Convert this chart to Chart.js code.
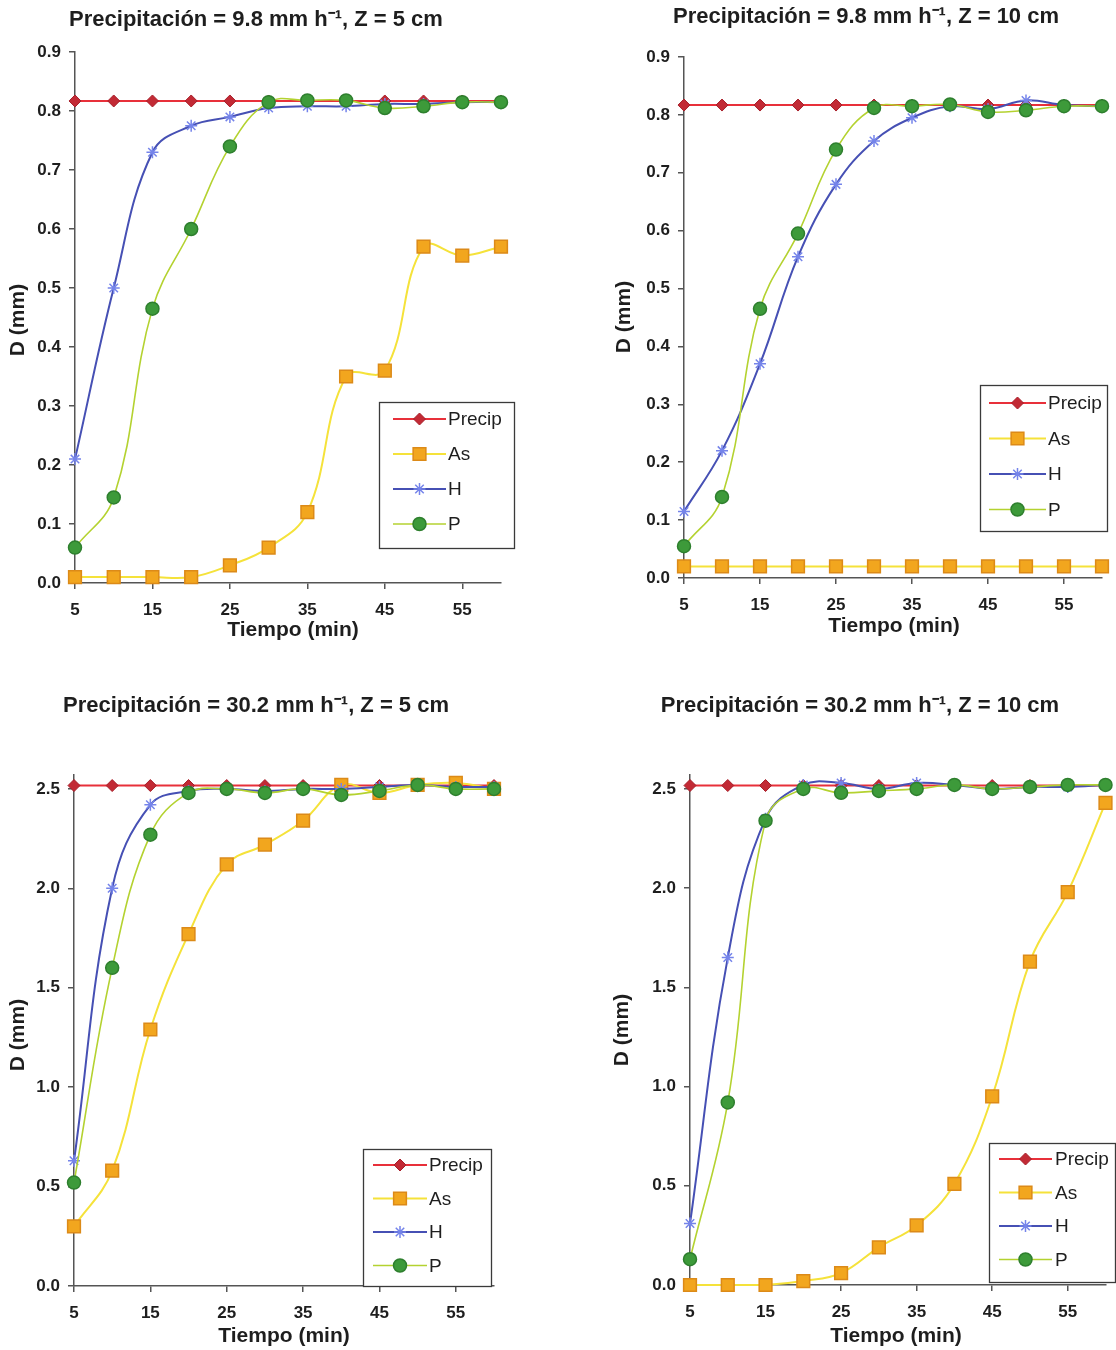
<!DOCTYPE html>
<html>
<head>
<meta charset="utf-8">
<script src="https://cdn.jsdelivr.net/npm/chart.js@4.4.1/dist/chart.umd.min.js"></script>
<style>
  html,body{margin:0;padding:0;background:#fff;}
  body{width:1116px;height:1350px;position:relative;overflow:hidden;}
  canvas{position:absolute;}
</style>
</head>
<body>
<script>
// ---------------- DATA ----------------
const times = [5, 10, 15, 20, 25, 30, 35, 40, 45, 50, 55, 60];
const xTickValues = [5, 15, 25, 35, 45, 55];
const yTicksLow = [0, 0.1, 0.2, 0.3, 0.4, 0.5, 0.6, 0.7, 0.8, 0.9];
const yTicksHigh = [0, 0.5, 1.0, 1.5, 2.0, 2.5];
const seriesNames = ['Precip', 'As', 'H', 'P'];
const chartTitles = [
  'Precipitación = 9.8 mm h⁻¹, Z = 5 cm',
  'Precipitación = 9.8 mm h⁻¹, Z = 10 cm',
  'Precipitación = 30.2 mm h⁻¹, Z = 5 cm',
  'Precipitación = 30.2 mm h⁻¹, Z = 10 cm'
];
const xAxisTitle = 'Tiempo (min)';
const yAxisTitle = 'D (mm)';

// Chart 1: 9.8 mm/h, Z = 5 cm
const precip1 = [0.817, 0.817, 0.817, 0.817, 0.817, 0.817, 0.817, 0.817, 0.817, 0.817, 0.817, 0.817];
const as1     = [0.01, 0.01, 0.01, 0.01, 0.03, 0.06, 0.12, 0.35, 0.36, 0.57, 0.555, 0.57];
const h1      = [0.21, 0.50, 0.73, 0.775, 0.79, 0.805, 0.808, 0.808, 0.812, 0.812, 0.815, 0.815];
const p1      = [0.06, 0.145, 0.465, 0.60, 0.74, 0.815, 0.818, 0.818, 0.805, 0.808, 0.815, 0.815];

// Chart 2: 9.8 mm/h, Z = 10 cm
const precip2 = [0.817, 0.817, 0.817, 0.817, 0.817, 0.817, 0.817, 0.817, 0.817, 0.817, 0.817, 0.817];
const as2     = [0.02, 0.02, 0.02, 0.02, 0.02, 0.02, 0.02, 0.02, 0.02, 0.02, 0.02, 0.02];
const h2      = [0.115, 0.22, 0.37, 0.555, 0.68, 0.755, 0.795, 0.815, 0.81, 0.825, 0.817, 0.815];
const p2      = [0.055, 0.14, 0.465, 0.595, 0.74, 0.812, 0.815, 0.818, 0.805, 0.808, 0.815, 0.815];

// Chart 3: 30.2 mm/h, Z = 5 cm
const precip3 = [2.517, 2.517, 2.517, 2.517, 2.517, 2.517, 2.517, 2.517, 2.517, 2.517, 2.517, 2.517];
const as3     = [0.30, 0.58, 1.29, 1.77, 2.12, 2.22, 2.34, 2.52, 2.48, 2.52, 2.53, 2.50];
const h3      = [0.63, 2.00, 2.42, 2.49, 2.50, 2.49, 2.50, 2.50, 2.51, 2.52, 2.51, 2.51];
const p3      = [0.52, 1.60, 2.27, 2.48, 2.50, 2.48, 2.50, 2.47, 2.49, 2.52, 2.50, 2.50];

// Chart 4: 30.2 mm/h, Z = 10 cm
const precip4 = [2.517, 2.517, 2.517, 2.517, 2.517, 2.517, 2.517, 2.517, 2.517, 2.517, 2.517, 2.517];
const as4     = [0.00, 0.00, 0.00, 0.02, 0.06, 0.19, 0.30, 0.51, 0.95, 1.63, 1.98, 2.43];
const h4      = [0.31, 1.65, 2.35, 2.52, 2.53, 2.50, 2.53, 2.52, 2.50, 2.51, 2.51, 2.52];
const p4      = [0.13, 0.92, 2.34, 2.50, 2.48, 2.49, 2.50, 2.52, 2.50, 2.51, 2.52, 2.52];

// ---------------- STYLE / LAYOUT ----------------
const FONT = '"Liberation Sans", Arial, sans-serif';
const TEXT = '#1e1e1e';
const AXIS = '#555555';
const STY = [
  { line: '#e8303a', pt: 'rectRot', r: 6,   fill: '#c22a35', border: '#a81f2a', bw: 1,   lw: 2,   order: 4 },
  { line: '#f5e23a', pt: 'rect',    r: 9,   fill: '#f2a61e', border: '#dc8a18', bw: 1.5, lw: 2,   order: 3 },
  { line: '#4650b4', pt: 'star',    r: 6,   fill: '#7584ea', border: '#7584ea', bw: 1.5, lw: 2,   order: 2 },
  { line: '#b4d230', pt: 'circle',  r: 6.5, fill: '#3d9a3a', border: '#2e7f2e', bw: 1.5, lw: 1.6, order: 1 }
];

const panels = [
  { left: 0,   top: 0,   w: 556, h: 675, area: { l: 75,  r: 501, t: 52,  b: 583 }, ymax: 0.9,  yTicks: yTicksLow,
    series: [precip1, as1, h1, p1], title: chartTitles[0],
    tPos: [256, 20], xtPos: [293, 630], ytPos: [18, 320],
    legend: { x: 379, y: 402, w: 135, h: 146, first: 17, step: 35, l0: 14, l1: 67, tx: 69 } },
  { left: 556, top: 0,   w: 560, h: 675, area: { l: 128, r: 546, t: 57,  b: 578 }, ymax: 0.9,  yTicks: yTicksLow,
    series: [precip2, as2, h2, p2], title: chartTitles[1],
    tPos: [310, 17], xtPos: [338, 626], ytPos: [68, 317],
    legend: { x: 424, y: 385, w: 127, h: 146, first: 18, step: 35.5, l0: 9, l1: 66, tx: 68 } },
  { left: 0,   top: 675, w: 556, h: 675, area: { l: 74,  r: 494, t: 100, b: 611 }, ymax: 2.57, yTicks: yTicksHigh,
    series: [precip3, as3, h3, p3], title: chartTitles[2],
    tPos: [256, 31], xtPos: [284, 661], ytPos: [18, 360],
    legend: { x: 363, y: 474, w: 128, h: 137, first: 16, step: 33.5, l0: 10, l1: 64, tx: 66 } },
  { left: 556, top: 675, w: 560, h: 675, area: { l: 134, r: 551, t: 100, b: 610 }, ymax: 2.57, yTicks: yTicksHigh,
    series: [precip4, as4, h4, p4], title: chartTitles[3],
    tPos: [304, 31], xtPos: [340, 661], ytPos: [66, 355],
    legend: { x: 433, y: 468, w: 126, h: 139, first: 16, step: 33.5, l0: 10, l1: 63, tx: 66 } }
];

function marker(ctx, s, x, y) {
  ctx.save();
  ctx.fillStyle = s.fill; ctx.strokeStyle = s.border; ctx.lineWidth = s.bw;
  ctx.beginPath();
  const r = s.r;
  if (s.pt === 'rectRot') {
    ctx.moveTo(x - r, y); ctx.lineTo(x, y - r); ctx.lineTo(x + r, y); ctx.lineTo(x, y + r); ctx.closePath();
    ctx.fill(); ctx.stroke();
  } else if (s.pt === 'rect') {
    const a = r * Math.SQRT1_2;
    ctx.rect(x - a, y - a, 2 * a, 2 * a); ctx.fill(); ctx.stroke();
  } else if (s.pt === 'star') {
    for (let k = 0; k < 4; k++) {
      const ang = k * Math.PI / 4;
      ctx.moveTo(x - Math.cos(ang) * r, y - Math.sin(ang) * r);
      ctx.lineTo(x + Math.cos(ang) * r, y + Math.sin(ang) * r);
    }
    ctx.stroke();
  } else {
    ctx.arc(x, y, r, 0, Math.PI * 2); ctx.fill(); ctx.stroke();
  }
  ctx.restore();
}

const decor = {
  id: 'decor',
  afterDraw(chart, args, o) {
    const P = o.panel;
    const ctx = chart.ctx;
    ctx.save();
    ctx.fillStyle = TEXT;
    ctx.textAlign = 'center';
    ctx.textBaseline = 'middle';
    ctx.font = 'bold 22px ' + FONT;
    ctx.fillText(P.title, P.tPos[0], P.tPos[1]);
    ctx.font = 'bold 21px ' + FONT;
    ctx.fillText(xAxisTitle, P.xtPos[0], P.xtPos[1]);
    ctx.save();
    ctx.translate(P.ytPos[0], P.ytPos[1]);
    ctx.rotate(-Math.PI / 2);
    ctx.fillText(yAxisTitle, 0, 0);
    ctx.restore();

    const L = P.legend;
    ctx.fillStyle = '#ffffff';
    ctx.fillRect(L.x, L.y, L.w, L.h);
    ctx.strokeStyle = '#3a3a3a';
    ctx.lineWidth = 1.3;
    ctx.strokeRect(L.x + 0.5, L.y + 0.5, L.w, L.h);
    ctx.font = '19px ' + FONT;
    ctx.textAlign = 'left';
    seriesNames.forEach((name, i) => {
      const s = STY[i];
      const y = L.y + L.first + i * L.step;
      ctx.strokeStyle = s.line; ctx.lineWidth = s.lw;
      ctx.beginPath(); ctx.moveTo(L.x + L.l0, y); ctx.lineTo(L.x + L.l1, y); ctx.stroke();
      marker(ctx, s, L.x + (L.l0 + L.l1) / 2, y);
      ctx.fillStyle = TEXT;
      ctx.fillText(name, L.x + L.tx, y + 1);
    });
    ctx.restore();
  }
};

const YW = 55, XH = 50;

panels.forEach((P, idx) => {
  const cv = document.createElement('canvas');
  cv.width = P.w; cv.height = P.h;
  cv.style.left = P.left + 'px'; cv.style.top = P.top + 'px';
  cv.style.width = P.w + 'px'; cv.style.height = P.h + 'px';
  document.body.appendChild(cv);

  const datasets = seriesNames.map((name, i) => {
    const s = STY[i];
    return {
      label: name,
      data: times.map((t, k) => ({ x: t, y: P.series[i][k] })),
      borderColor: s.line,
      borderWidth: s.lw,
      backgroundColor: s.fill,
      pointStyle: s.pt,
      pointRadius: s.r,
      pointBackgroundColor: s.fill,
      pointBorderColor: s.border,
      pointBorderWidth: s.bw,
      tension: 0.4,
      fill: false,
      clip: false,
      order: s.order
    };
  });

  new Chart(cv.getContext('2d'), {
    type: 'line',
    data: { datasets },
    options: {
      responsive: false,
      animation: false,
      devicePixelRatio: 1,
      layout: { padding: { left: P.area.l - YW, top: P.area.t, right: P.w - P.area.r, bottom: P.h - P.area.b - XH } },
      plugins: { legend: { display: false }, tooltip: { enabled: false }, title: { display: false }, decor: { panel: P } },
      scales: {
        x: {
          type: 'linear', min: 5, max: 60,
          afterBuildTicks: s => { s.ticks = xTickValues.map(v => ({ value: v })); },
          afterFit: s => { s.height = XH; },
          ticks: { color: TEXT, font: { family: FONT, size: 17, weight: 'bold' }, padding: 11, maxRotation: 0, autoSkip: false },
          grid: { drawOnChartArea: false, drawTicks: true, tickLength: 6, color: AXIS, lineWidth: 1.5 },
          border: { display: true, color: AXIS, width: 1.5 }
        },
        y: {
          type: 'linear', min: 0, max: P.ymax,
          afterBuildTicks: s => { s.ticks = P.yTicks.map(v => ({ value: v })); },
          afterFit: s => { s.width = YW; },
          ticks: { color: TEXT, font: { family: FONT, size: 17, weight: 'bold' }, padding: 8,
                   callback: v => Number(v).toFixed(1) },
          grid: { drawOnChartArea: false, drawTicks: true, tickLength: 6, color: AXIS, lineWidth: 1.5 },
          border: { display: true, color: AXIS, width: 1.5 }
        }
      }
    },
    plugins: [decor]
  });
});
</script>
</body>
</html>
